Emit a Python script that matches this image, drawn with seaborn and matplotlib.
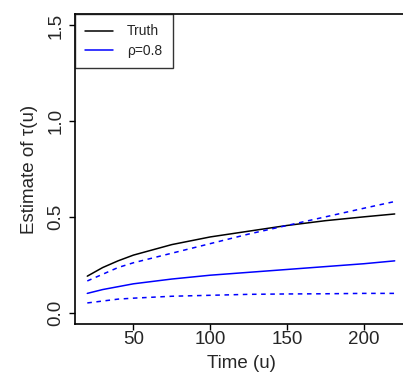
import numpy as np
import pandas as pd
import matplotlib
matplotlib.use("Agg")
import matplotlib.pyplot as plt
import seaborn as sns
from matplotlib.lines import Line2D

# values
time_u = [20, 30, 40, 50, 75, 100, 125, 150, 175, 200, 220]
truth = [0.19, 0.235, 0.27, 0.30, 0.355, 0.395, 0.425, 0.455, 0.48, 0.50, 0.515]
est_rho08 = [0.10, 0.12, 0.135, 0.15, 0.175, 0.195, 0.21, 0.225, 0.24, 0.255, 0.27]
upper_rho08 = [0.165, 0.20, 0.235, 0.26, 0.31, 0.36, 0.41, 0.455, 0.50, 0.545, 0.58]
lower_rho08 = [0.05, 0.06, 0.07, 0.075, 0.085, 0.09, 0.095, 0.097, 0.098, 0.10, 0.10]

x_ticks = [50, 100, 150, 200]
y_ticks = [0.0, 0.5, 1.0, 1.5]
legend_labels = ["Truth", "\u03c1=0.8"]

sns.set_theme(style="ticks")
plt.rcParams["font.family"] = ["Liberation Sans", "DejaVu Sans"]

fig = plt.figure(figsize=(4.03, 3.76), dpi=100)
ax = fig.add_axes([75 / 403, 1 - 324 / 376, 332 / 403, 310 / 376])

df = pd.DataFrame({"u": time_u, "truth": truth, "est": est_rho08,
                   "upper": upper_rho08, "lower": lower_rho08})

sns.lineplot(data=df, x="u", y="truth", color="black", lw=1.1, ax=ax)
sns.lineplot(data=df, x="u", y="est", color="blue", lw=1.1, ax=ax)
sns.lineplot(data=df, x="u", y="upper", color="blue", lw=1.1, ax=ax,
             linestyle=(0, (3, 3)))
sns.lineplot(data=df, x="u", y="lower", color="blue", lw=1.1, ax=ax,
             linestyle=(0, (3, 3)))

ax.set_xlim(12, 228)
ax.set_ylim(-0.06, 1.56)
ax.set_xticks(x_ticks)
ax.set_yticks(y_ticks)
ax.set_xticklabels([str(t) for t in x_ticks], fontsize=13.5)
ax.set_yticklabels([f"{t:.1f}" for t in y_ticks], fontsize=13.5, rotation=90, va="center")
ax.tick_params(direction="out", length=4.5, width=1.0, color="black")
ax.tick_params(axis="x", pad=0.5)
ax.tick_params(axis="y", pad=3)
ax.set_xlabel("Time (u)", fontsize=13.5, labelpad=5)
ax.set_ylabel("Estimate of \u03c4(u)", fontsize=13.5, labelpad=7)
for sp in ax.spines.values():
    sp.set_visible(True)
    sp.set_color("black")
    sp.set_linewidth(1.2)

handles = [Line2D([], [], color="black", lw=1.1), Line2D([], [], color="blue", lw=1.1)]
leg = ax.legend(handles, legend_labels, loc="upper left", borderaxespad=0, fontsize=10,
                frameon=True, fancybox=False, handlelength=2.0, handletextpad=1.0,
                borderpad=0.75, labelspacing=0.4)
leg.get_frame().set_edgecolor("black")
leg.get_frame().set_linewidth(1.0)

fig.savefig("out.png", dpi=100)
